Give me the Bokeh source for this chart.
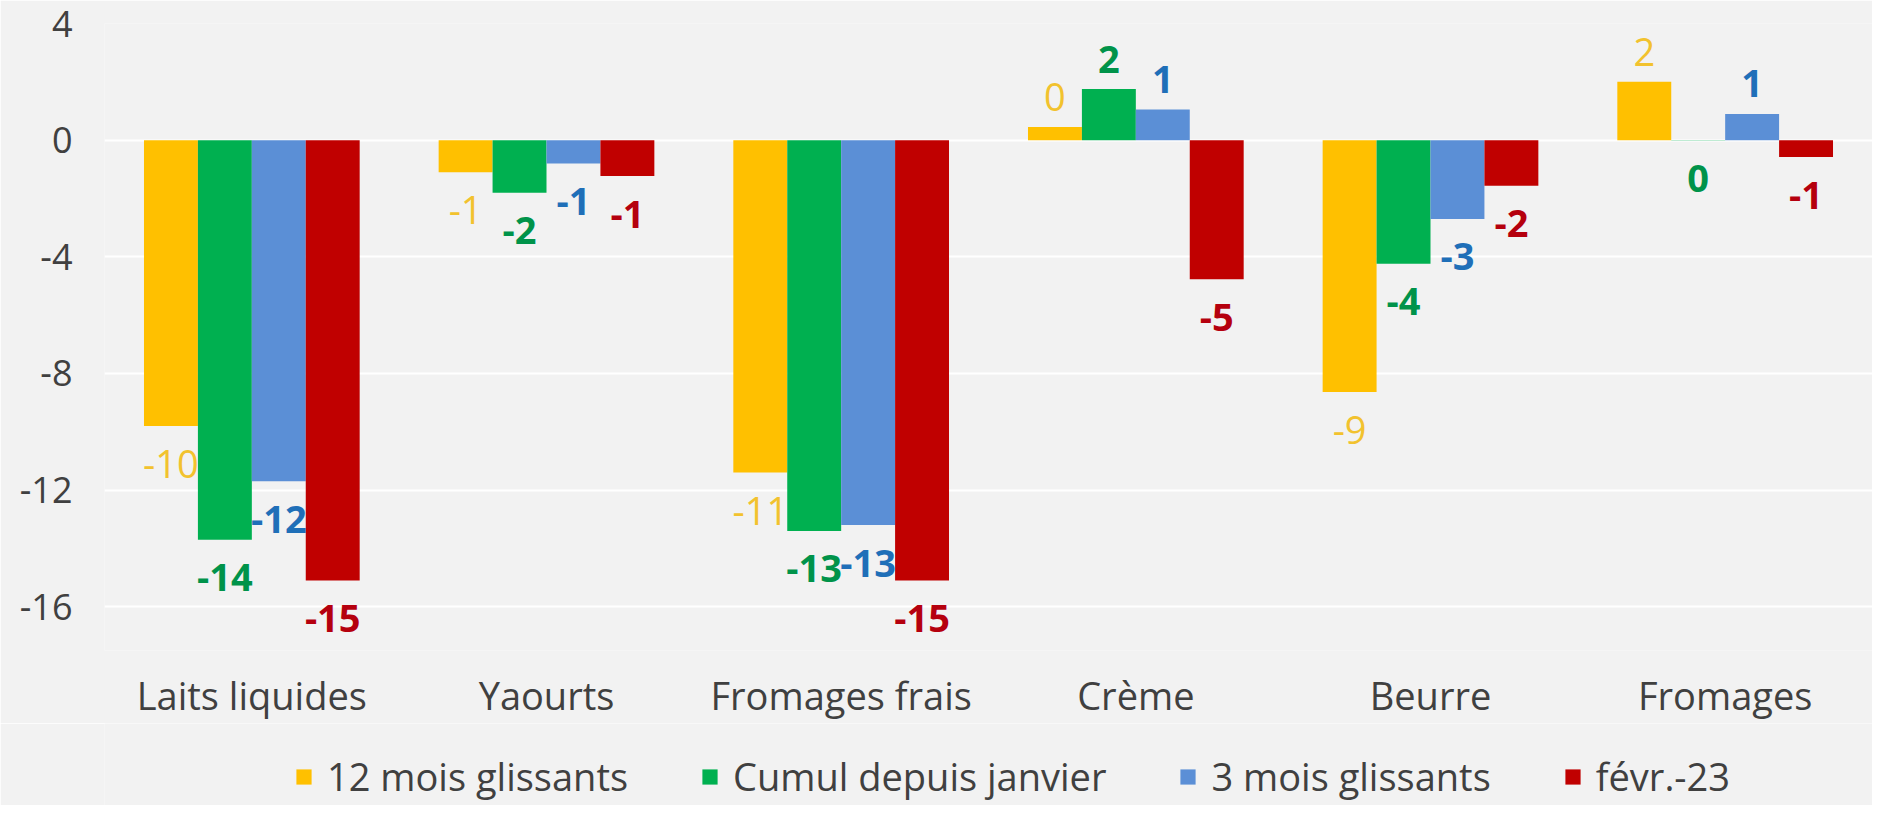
from bokeh.plotting import figure
from bokeh.layouts import column
from bokeh.models import ColumnDataSource, FactorRange, Range1d, FixedTicker, Legend, LegendItem
from bokeh.transform import dodge
from bokeh.core.properties import value
from bokeh.embed import file_html
from bokeh.resources import INLINE

# ---- data ----
categories = ["Laits liquides", "Yaourts", "Fromages frais", "Crème", "Beurre", "Fromages"]
series_names = ["12 mois glissants", "Cumul depuis janvier", "3 mois glissants", "févr.-23"]
mois12 = [-9.8, -1.1, -11.4, 0.45, -8.64, 2.0]
cumul = [-13.7, -1.8, -13.4, 1.75, -4.24, -0.01]
mois3 = [-11.7, -0.8, -13.2, 1.05, -2.7, 0.9]
fevr23 = [-15.1, -1.23, -15.1, -4.77, -1.56, -0.58]
y_ticks = [-16, -12, -8, -4, 0, 4]

# ---- styles ----
bar_colors = ["#FFC000", "#00B050", "#5B8FD6", "#C00000"]
label_colors = ["#F2C22E", "#00934A", "#1F6FB8", "#B5000E"]
label_weights = ["normal", "bold", "bold", "bold"]
FONT = "Open Sans"
BG = "#F2F2F2"
TXT = "#404040"
W = 1872
H_MAIN = 723
H_LEG = 82

all_series = [mois12, cumul, mois3, fevr23]

p = figure(x_range=FactorRange(*categories), y_range=Range1d(-17.5, 4),
           width=W, height=H_MAIN, output_backend="svg", toolbar_location=None,
           min_border_left=104, min_border_right=0, min_border_top=23, min_border_bottom=70,
           background_fill_color=BG, border_fill_color=BG, outline_line_color=None)

bw = 0.183
for i, (name, vals) in enumerate(zip(series_names, all_series)):
    src = ColumnDataSource(dict(
        cat=categories,
        val=vals,
        lab=[str(int(round(v))) for v in vals],
        yoff=[-30 if v > 0 else 38 for v in vals],
    ))
    xs = dodge("cat", (i - 1.5) * bw, range=p.x_range)
    p.vbar(x=xs, top="val", bottom=0, width=bw, source=src,
           fill_color=bar_colors[i], line_color=None)
    p.text(x=xs, y="val", text="lab", y_offset="yoff", source=src,
           text_align="center", text_baseline="middle",
           text_font=value(FONT), text_font_size="38px",
           text_font_style=label_weights[i], text_color=label_colors[i])

p.xgrid.visible = False
p.ygrid.ticker = FixedTicker(ticks=y_ticks)
p.ygrid.grid_line_color = "white"
p.ygrid.grid_line_width = 2

p.yaxis.ticker = FixedTicker(ticks=y_ticks)
p.yaxis.major_label_overrides = {t: str(t) for t in y_ticks}
for ax in (p.xaxis, p.yaxis):
    ax.axis_line_color = None
    ax.major_tick_line_color = None
    ax.minor_tick_line_color = None
    ax.major_tick_out = 0
    ax.major_label_text_font = FONT
    ax.major_label_text_color = TXT
p.yaxis.major_label_text_font_size = "36px"
p.xaxis.major_label_text_font_size = "38px"
p.yaxis.major_label_standoff = 32
p.xaxis.major_label_standoff = 18

# ---- legend strip (series drawn out of view, only the swatches show) ----
pl = figure(width=W, height=H_LEG, output_backend="svg", toolbar_location=None,
            x_range=FactorRange(*categories), y_range=Range1d(100, 101),
            x_axis_location=None, y_axis_location=None, min_border=0,
            background_fill_color=BG, border_fill_color=BG, outline_line_color=None)
pl.grid.visible = False
items = []
for i, (name, vals) in enumerate(zip(series_names, all_series)):
    r = pl.vbar(x=categories, top=vals, width=bw, fill_color=bar_colors[i], line_color=None)
    items.append(LegendItem(label=name, renderers=[r]))
legend = Legend(items=items, orientation="horizontal", location=(190, 3),
                glyph_width=19, glyph_height=19, label_text_font=FONT,
                label_text_font_size="38px", label_text_color=TXT,
                spacing=72, label_standoff=14, padding=0, margin=0,
                border_line_color=None, background_fill_alpha=0)
pl.add_layout(legend, "center")

layout = column(p, pl, spacing=0)
html = file_html(layout, INLINE)
html = html.replace("<body>", '<body style="background-color:#F2F2F2;">', 1)
open("out.html", "w").write(html)
